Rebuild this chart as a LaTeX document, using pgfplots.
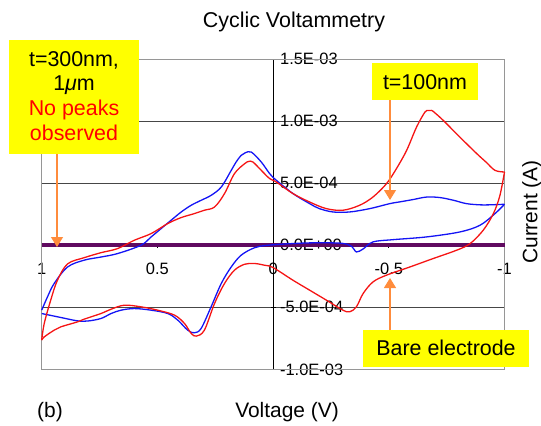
\documentclass[border=0pt]{standalone}
\usepackage{fontspec}
\setmainfont{Liberation Sans}
\usepackage{pgfplots}
\pgfplotsset{compat=1.18}
\usetikzlibrary{arrows.meta}
\definecolor{cvblue}{RGB}{20,20,245}
\definecolor{cvred}{RGB}{245,20,20}
\definecolor{cvpurple}{RGB}{96,10,96}
\definecolor{cvorange}{RGB}{255,140,60}
\definecolor{cvyellow}{RGB}{255,255,0}
\definecolor{cvgrid}{RGB}{70,70,70}
\definecolor{cvborder}{RGB}{150,150,150}
\begin{document}
\begin{tikzpicture}[x=1bp,y=1bp]
\path[use as bounding box] (0,0) rectangle (541,425);
\begin{axis}[
  at={(41.7bp,55.6bp)}, anchor=south west,
  scale only axis, width=462.8bp, height=310.4bp,
  xmin=-1, xmax=1, ymin=-1e-3, ymax=1.5e-3,
  x dir=reverse,
  axis lines=middle, axis line style={-, black, line width=0.8bp},
  xtick={-1,-0.5,0,0.5,1}, xticklabels={-1,-0.5,0,0.5,1},
  ytick={-1e-3,-5e-4,0,5e-4,1e-3,1.5e-3},
  yticklabels={-1.0E-03,-5.0E-04,0.0E+00,5.0E-04,1.0E-03,1.5E-03},
  scaled y ticks=false,
  hide obscured x ticks=false, hide obscured y ticks=false,
  ymajorgrids, grid style={cvgrid, line width=0.7bp},
  tick style={black, line width=0.8bp},
  major tick length=5bp,
  ticklabel style={font=\fontsize{16.5}{19}\selectfont},
  yticklabel style={anchor=west, xshift=6bp},
  xticklabel style={yshift=-12bp},
  clip=false,
]
\draw[cvborder, line width=0.8bp] (rel axis cs:0,0) rectangle (rel axis cs:1,1);
\addplot[cvpurple, line width=4bp] coordinates {(-1,0) (1,0)};
% blue upper branch
\addplot[cvblue, line width=1.3bp, smooth, tension=0.55] coordinates {
(-1.000,3.30e-4) (-0.959,3.27e-4) (-0.900,3.25e-4) (-0.836,3.35e-4) (-0.780,3.62e-4) (-0.721,3.84e-4) (-0.663,3.88e-4) (-0.605,3.68e-4) (-0.550,3.50e-4) (-0.504,3.35e-4) (-0.418,2.95e-4) (-0.331,2.68e-4) (-0.259,2.68e-4) (-0.200,2.95e-4) (-0.158,3.35e-4) (-0.086,4.16e-4) (-0.014,5.23e-4) (0.015,5.77e-4) (0.051,6.70e-4) (0.094,7.50e-4) (0.120,7.45e-4) (0.138,7.24e-4) (0.160,6.70e-4) (0.181,6.03e-4) (0.224,4.69e-4) (0.268,4.02e-4) (0.311,3.62e-4) (0.354,3.22e-4) (0.397,2.68e-4) (0.441,2.01e-4) (0.484,1.34e-4) (0.527,0.67e-4) (0.571,0.0) (0.672,-0.67e-4) (0.744,-0.95e-4) (0.816,-1.20e-4) (0.888,-1.75e-4) (0.946,-3.08e-4) (0.975,-4.16e-4) (1.000,-5.23e-4)};
% blue lower branch
\addplot[cvblue, line width=1.3bp, smooth, tension=0.55] coordinates {
(1.000,-5.50e-4) (0.917,-5.82e-4) (0.845,-6.09e-4) (0.800,-6.10e-4) (0.744,-5.90e-4) (0.700,-5.50e-4) (0.657,-5.23e-4) (0.600,-5.10e-4) (0.527,-5.23e-4) (0.455,-5.50e-4) (0.412,-6.03e-4) (0.369,-6.84e-4) (0.340,-7.05e-4) (0.311,-6.70e-4) (0.268,-4.96e-4) (0.224,-3.08e-4) (0.181,-1.75e-4) (0.138,-0.80e-4) (0.080,-0.20e-4) (0.023,0.0) (-0.100,0.15e-4) (-0.200,0.20e-4) (-0.300,0.15e-4) (-0.340,-0.10e-4) (-0.360,-0.54e-4) (-0.389,-0.30e-4) (-0.432,0.27e-4) (-0.519,0.45e-4) (-0.663,0.67e-4) (-0.807,1.07e-4) (-0.894,1.61e-4) (-0.959,2.55e-4) (-1.000,3.30e-4)};
% red upper branch
\addplot[cvred, line width=1.3bp, smooth, tension=0.55] coordinates {
(-1.000,5.90e-4) (-0.959,6.03e-4) (-0.920,6.70e-4) (-0.880,7.38e-4) (-0.807,8.71e-4) (-0.735,10.06e-4) (-0.700,10.65e-4) (-0.685,10.86e-4) (-0.670,10.85e-4) (-0.656,10.72e-4) (-0.620,9.52e-4) (-0.577,7.64e-4) (-0.533,6.17e-4) (-0.490,4.96e-4) (-0.432,3.89e-4) (-0.374,3.22e-4) (-0.302,2.82e-4) (-0.230,2.95e-4) (-0.158,3.48e-4) (-0.086,4.16e-4) (-0.014,5.09e-4) (0.015,5.37e-4) (0.051,6.03e-4) (0.087,6.70e-4) (0.105,6.75e-4) (0.123,6.57e-4) (0.167,5.77e-4) (0.210,4.16e-4) (0.253,3.08e-4) (0.297,2.82e-4) (0.340,2.55e-4) (0.397,2.23e-4) (0.455,1.75e-4) (0.527,0.94e-4) (0.600,0.40e-4) (0.672,-0.27e-4) (0.744,-0.60e-4) (0.816,-1.00e-4) (0.888,-1.50e-4) (0.932,-2.82e-4) (0.961,-4.42e-4) (0.989,-6.30e-4) (1.000,-7.64e-4)};
% red lower branch
\addplot[cvred, line width=1.3bp, smooth, tension=0.55] coordinates {
(1.000,-7.64e-4) (0.989,-7.38e-4) (0.946,-6.84e-4) (0.917,-6.57e-4) (0.845,-6.17e-4) (0.816,-5.95e-4) (0.744,-5.50e-4) (0.700,-5.15e-4) (0.643,-4.83e-4) (0.571,-4.96e-4) (0.499,-5.23e-4) (0.426,-5.63e-4) (0.383,-6.30e-4) (0.354,-7.10e-4) (0.332,-7.32e-4) (0.297,-6.84e-4) (0.253,-4.69e-4) (0.210,-3.08e-4) (0.167,-2.01e-4) (0.123,-1.53e-4) (0.080,-1.47e-4) (0.037,-1.61e-4) (0.000,-1.80e-4) (-0.086,-2.82e-4) (-0.158,-3.62e-4) (-0.230,-4.42e-4) (-0.302,-5.23e-4) (-0.331,-5.36e-4) (-0.360,-4.96e-4) (-0.389,-3.89e-4) (-0.432,-2.95e-4) (-0.490,-2.41e-4) (-0.591,-1.75e-4) (-0.692,-1.07e-4) (-0.793,-0.40e-4) (-0.851,0.13e-4) (-0.908,1.21e-4) (-0.952,2.55e-4) (-0.980,4.00e-4) (-1.000,5.90e-4)};
\end{axis}
% titles and labels
\node[font=\fontsize{21.5}{25}\selectfont] at (294,403) {Cyclic Voltammetry};
\node[font=\fontsize{21}{25}\selectfont] at (287,13) {Voltage (V)};
\node[font=\fontsize{21}{25}\selectfont] at (50,13) {(b)};
\node[font=\fontsize{21}{25}\selectfont, rotate=90] at (532,213) {Current (A)};
% annotation boxes
\fill[cvyellow] (9,271) rectangle (139,385);
\node[font=\fontsize{21.5}{25}\selectfont, align=center] at (74,329) {t=300nm,\\1\textit{μ}m\\\textcolor{red}{No peaks}\\\textcolor{red}{observed}};
\fill[cvyellow] (371.7,325) rectangle (478.3,361.7);
\node[font=\fontsize{21.5}{25}\selectfont] at (425,343.3) {t=100nm};
\fill[cvyellow] (362.7,58.3) rectangle (529.3,95);
\node[font=\fontsize{21.5}{25}\selectfont] at (446,76.7) {Bare electrode};
% arrows
\draw[cvorange, line width=1.2bp, -{Triangle[width=12bp,length=10bp]}] (57,271) -- (57,178);
\draw[cvorange, line width=1.2bp, -{Triangle[width=12bp,length=10bp]}] (390,325) -- (390,225);
\draw[cvorange, line width=1.2bp, -{Triangle[width=12bp,length=10bp]}] (390,95) -- (390,147);
\end{tikzpicture}
\end{document}
